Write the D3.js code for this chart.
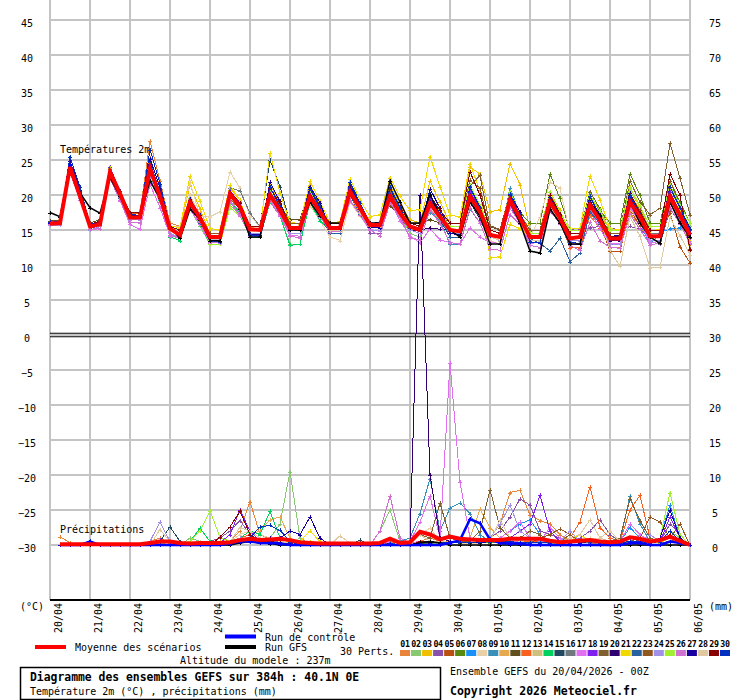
<!DOCTYPE html>
<html><head><meta charset="utf-8">
<script src="https://cdn.jsdelivr.net/npm/d3@7"></script>
<style>
body{margin:0;background:#fff}
svg{display:block}
text{font-family:"DejaVu Sans Mono",monospace;fill:#000}
</style>
</head><body>
<svg id="c" width="740" height="700"></svg>
<script>
// ---------- DATA ----------
const dates = ["20/04","21/04","22/04","23/04","24/04","25/04","26/04","27/04","28/04","29/04","30/04","01/05","02/05","03/05","04/05","05/05","06/05"];
const tempTicks = [45,40,35,30,25,20,15,10,5,0,-5,-10,-15,-20,-25,-30];
const precipTicks = [75,70,65,60,55,50,45,40,35,30,25,20,15,10,5,0];
const pertNames = ["01","02","03","04","05","06","07","08","09","10","11","12","13","14","15","16","17","18","19","20","21","22","23","24","25","26","27","28","29","30"];
const pertColors = ["#e8843a","#88c870","#f0c000","#8850a8","#b85010","#588810","#1890f8","#e8d0a8","#3890b8","#e8a850","#605020","#f86020","#d0c080","#00d060","#204860","#707880","#e070f0","#8020f0","#806030","#300070","#f0d800","#2860a0","#905820","#a090e8","#a0f030","#d070d0","#1800a0","#e0c8a0","#880000","#0030c0"];

// 2m temperature, every 6h from 20/04 00Z (65 steps)
const meanTemp = [15.9,16,24,19.8, 15.5,15.8,23.3,20.2, 16.8,16.8,23.8,19.8, 15.2,14.3,19,16.7, 14,14,20.2,18.3, 15.1,15,20,17.8, 15.3,15.3,19.8,17.6, 15.3,15.3,20.5,18.1, 15.7,15.7,19.8,17.4, 15.5,15,18.8,16.9, 15,14.8,19.8,17.6, 14.3,14,19.3,16.7, 14,14,19,16.7, 13.8,14,18.6,16.4, 13.8,13.8,19,16.9, 14.1,14.1,19.8,17.1, 14.3];
const ctrlTemp = [16,16,24.2,20, 15.6,15.9,23.4,20.3, 16.9,16.9,24.1,20, 15.2,14.3,19.2,16.8, 14,14.1,20.4,18.4, 15.1,15,20.2,17.9, 15.3,15.3,20,17.7, 15.3,15.4,20.7,18.2, 15.7,15.7,20,17.5, 15.5,15.1,19,17, 15,14.8,20,17.7, 14.3,14,19.5,16.8, 14,14,19.2,16.8, 13.8,14,18.8,16.5, 13.8,13.8,19.2,17, 14.1,14.1,20,17.2, 14.5];
const gfsTemp = [17.5,16.9,24,20.3, 18.2,17.4,22.5,19.8, 17,17,22,19.5, 15.5,13.8,18,16.5, 13.5,13.5,20,18, 14,14,20,18, 15,15,19,17, 16,16,20,18, 16,16,22,19, 16,16,20,17, 15,14,19,17, 13,13,19,16, 12,11.7,18,16, 13,13,19,17, 14,14,19,16, 14,13.1,19,16, 14];
const pertTemp = [
[16,16,24.5,20.3, 16,16.5,23.5,20.3, 17.5,17.5,27.7,22, 16,15.5,19.5,17.3, 14.5,14.5,19,18.3, 14,14,19.5,17.3, 15.5,15.5,21,18, 16,16,19.2,17.6, 16,16,21,18.3, 15.5,15,18,16.5, 14,14,21,17.5, 15,14.5,20.5,17.3, 15,15,20.5,17.8, 13,13,17,15.3, 12.5,12.5,17.5,15.5, 13.5,13.5,20.5,17, 13.5],
[15.7,15.7,23.5,19.6, 15,15.5,22.5,19.3, 16.5,16.5,23,19.3, 14,13.5,18,15.5, 13,13,18.5,17.3, 14,14,19,17, 13,13,19,16.3, 15,15,20,17.5, 15,15,19.5,17, 14.5,14,19,16.5, 14,14,21,17.5, 13.5,13,20,16.3, 14,14,19.5,16.8, 14.5,14.5,20,17.5, 15,15,20.5,18.3, 15,15,21,18, 15.5],
[16,16,24,20, 15.8,16.3,23.5,20.1, 17,17,24.5,20.3, 15.5,15,21.5,18, 14.5,14.5,21,19.3, 15,15,21.5,18.8, 15.5,15.5,21.5,18.3, 16,16,21,18.5, 16,16,21.5,18.5, 16.5,16,22,19, 16,16,24,23, 17.6,17.9,24.5,21.5, 15,15,20.5,17.8, 14.5,14.5,20,17.5, 14,14,19,17, 14,14,20.5,17.3, 13.5],
[16,16,23.7,19.8, 15.5,16,23.5,20, 16.7,16.7,23.5,19.6, 14.5,14,18.5,16, 13.5,13.5,20,18.3, 15.5,15.5,20.5,18.5, 15,15,19.5,17, 15.5,15.5,20.8,18.2, 14.5,14.5,19.5,16.8, 15,14.5,18.5,16.5, 14,14,19,16.5, 14,13.5,18.5,16, 14.8,15,17.7,16.1, 15.1,15.2,15.3,15.5, 15.3,15,15.5,15.1, 14,13,18,16, 13.8],
[16,16,24,20, 15.8,16.3,23.8,20.3, 17,17,24.5,20.3, 15.5,15,19,16.8, 14,14,19.5,18, 14.5,14.5,19.5,17.5, 15,15,19,16.8, 15,15,20.2,17.6, 16,16,19,17, 16,15.5,18.5,17, 15,15,19.5,17.3, 15,14.5,19,16.5, 13.5,13.5,18,15.8, 13.5,13.5,18,16, 12,12,18,15.5, 13.8,14,17.4,12.6, 10.3],
[16,16,24.2,20.1, 15.5,16,23.7,20.1, 17,17,24,20, 15,14.5,19.5,16.8, 14.5,14.5,20.5,19, 15.5,15.5,21,18.8, 16,16,20.5,18, 16,16,21.5,18.8, 16,16,21,18.3, 16,15.5,20,17.8, 15.5,15.5,21,18.3, 15.5,15,20.5,17.5, 16,16,23,19.5, 15,15,20,17.8, 16,16,23,20, 16,16,22,19, 16],
[16,16,24,20, 15.5,16,23.2,19.8, 17,17,24.7,20.4, 14.5,14,18,15.8, 13,13,19,17.5, 14,14,19.5,17.3, 15,15,19,16.8, 16,16,21,18.5, 16,16,20,17.8, 15,14.5,18,16.3, 14.5,14.5,20,17.3, 14,13.5,20,16.5, 13.5,13.5,19,16.3, 12.5,12.5,18.5,15.8, 13,13,18,16, 12.9,14.6,15.2,15.3, 15],
[16,16,24,20, 15.5,16,23,19.8, 17,17,23,19.5, 15.5,15.5,21.8,17, 16.9,17.6,23.3,21, 17,15.5,19.5,17, 14.5,14.5,18.5,16.3, 14,13.5,19,17, 15,15,20,17.3, 15.5,15,20,17.5, 14.5,14.5,20,17.3, 13.5,13,20,16.3, 14,16.9,21.8,21, 14.5,14.5,18,16.5, 13,13,18,16, 14,14,19,16.5, 14],
[15.8,15.8,23.7,19.8, 15.2,15.7,23,19.6, 16.5,16.5,23.5,19.5, 14.5,14,19,16.3, 14,14,20.5,18.8, 15,15,19.5,17.8, 15,15,20.5,17.5, 14.5,14.5,20.5,17.5, 15.5,15.5,19,17, 15.5,15,17.5,16.3, 13,13,18,16, 14.5,14,21,17.3, 14.5,14.5,19,17, 14,14,19,17, 14.5,14.5,20,17.8, 14,14,19.5,16.8, 14.5],
[16,16,24.3,20.2, 15.8,16.3,23.8,20.3, 17,17,24.3,20.2, 15.5,15,19.5,17, 14,14,20,18.5, 14.5,14.5,20.5,18, 15.5,15.5,20,17.5, 16,16,21,18.5, 16,16,20.5,18, 15.5,15,19.5,17.3, 16,16,21,18.5, 15,14.5,20,17, 14.5,14.5,19.5,17, 14.5,14.5,19.5,17.3, 15,15,20,18, 14.5,14.5,20,17.3, 13],
[16.3,16.3,24.5,20.3, 16,16.5,24,20.5, 17.5,17.5,23.5,20, 15,14.5,20,17, 14.5,14.5,20.5,19, 15,15,20.5,18.3, 16.5,16.5,21,18.5, 15,15,21,18, 16,16,18.5,17, 16,16,16.5,16, 15.5,15.5,20,17.8, 15.5,15,19,16.8, 14,14,20,17, 14.5,14.5,17.5,16.3, 13.5,13.5,18.5,16.5, 15,15,21,18, 15],
[16.2,16.2,24.5,20.3, 15.8,16.3,23.8,20.3, 17.3,17.3,25.3,21, 15,14.5,19,16.5, 14,14,20,18.5, 15,15,20.5,18.3, 15,15,19.5,17, 15,15,20,17.5, 16,16,20,17.8, 15.5,15,19.5,17.3, 14.5,14.5,19.5,17, 14,13.5,19.5,16.3, 13.5,13.5,18.5,16, 12.5,12.5,17.5,15.3, 14,14,18.5,16.8, 13.5,13.5,19.5,16.5, 13],
[16,16,24,20, 15.2,15.7,23.2,19.7, 17,17,23.5,19.8, 15,14.5,20,17, 14,14,19.5,18.3, 14.5,14.5,20,17.8, 16,16,20,17.8, 16,16,20,18, 15,15,20,17.3, 15.5,15,18,16.5, 15,15,19.5,17.3, 14,13.5,19,16, 14.5,14.5,20,17.3, 14,14,18.5,16.5, 13.5,13.5,18.5,16.5, 14.5,14.5,19.5,17, 14.5],
[16,16,23.7,19.8, 15.2,15.7,23.2,19.7, 16.5,16.5,23,19.3, 14,13.5,18,15.8, 13,13,19,17.5, 14,14,19,17, 12.8,13,19,16.3, 15,15,20.5,17.8, 15,15,19.5,17, 15.5,15,19,17, 14.5,14.5,19.5,17, 14,13.5,19,16, 13.5,13.5,18.5,16, 13.5,13.5,18.5,16.3, 13.5,13.5,19,16.8, 14,14,19.5,16.8, 14.5],
[16,16,24.3,20.2, 15.5,16,23.5,20, 17,17,24.5,20.3, 15,14.5,18.5,16.3, 14,14,20.5,18.8, 15.5,15.5,25,21.2, 16,16,21,18.3, 15,15,20.5,17.8, 15.5,15.5,19.5,17.3, 15,14.5,18.5,16.5, 14,14,19,16.5, 14.5,14,19.5,16.5, 14.5,14.5,19,16.8, 13.5,13.5,18,16, 14.5,14.5,19.5,17.5, 14,14,20,17, 14],
[16,16,24,20, 15.5,16,23.5,20, 17,17,24,20, 15.5,15,19,16.8, 14.5,14.5,21,20.6, 17.4,15.5,20,18, 15,15,19.5,17.3, 15.5,15.5,20,17.8, 15.5,15.5,20,17.5, 15,14.5,19.5,17, 15,15,20,17.5, 15,14.5,20.5,17.3, 14,14,19,16.5, 14,14,19,16.8, 13.5,13.5,19,16.8, 14.5,14.5,20.5,17.5, 14.5],
[15.8,15.8,23.2,19.3, 15,15.2,22.4,19.2, 15.8,15.1,21.5,18.2, 14.2,13.8,18,15.8, 13.2,13.2,19.1,17.1, 14.1,14,19.2,17.1, 14.3,14.1,19.1,17, 14.8,14.9,19.2,17.2, 15.1,14.8,19.1,16.3, 14.2,13.1,15.2,13.6, 13.2,13,15.3,14, 13.2,13.1,18.1,16, 13.1,13.2,18.2,16, 12.9,13.1,17.9,15.1, 13,13.1,18.2,16.1, 13.2,13.1,18.9,16, 13.2],
[16,16,24.3,20.2, 15.8,16.3,24,20.5, 17,17,24,20, 15,14.5,19.5,16.8, 14.5,14.5,20.5,19, 15,15,21,18.5, 15.5,15.5,20.5,17.8, 16,16,21.5,18.8, 16,16,20.5,18, 16,15.5,19.5,17.5, 15.5,15.5,20.5,18, 14,13.5,19.5,16.3, 14,14,19.5,16.8, 13,13,18.5,16, 14,14,20,17.5, 14,14,20.5,17.3, 15],
[16,16,23.8,19.9, 15.5,16,23.5,20, 17,17,24,20, 15,14.5,19,16.5, 14,14,20,18.5, 15,15,21,18.5, 15.5,15.5,20,17.5, 15.5,15.5,21,18.3, 16,16,20.5,18, 16,15.5,20,17.8, 15.5,15.5,21.3,22.8, 15.6,15.1,20.2,17.2, 15,15,20,17.5, 15,15,20.5,18, 15,15,22,19, 17.2,18.1,27.4,22.4, 17.2],
[16,16,24,20, 15.5,16,23.5,20, 17,17,24,20, 15,14.5,19.5,16.8, 14,14,19.5,18.3, 15,15,20,18, 15,15,20,17.3, 15,15,20.5,17.8, 15,15,21,17.5, 15,15,15.3,15.1, 15,15,19,17, 14,13.5,19,16.3, 13.5,13.5,19,16.3, 14,14,18,16.3, 13.5,13.5,19,16.8, 14,14,20,17, 14.5],
[16.1,16.1,24.2,20.3, 15.8,16.1,23.4,20.4, 17.1,17.1,25.1,21.1, 15.6,15.3,22.7,19.1, 15.2,15,21.4,19.2, 15.4,15.1,26,20.3, 16.1,15.9,22,19.1, 16,16.2,22.3,19.3, 16.9,17.2,22.5,19.8, 17.8,17.9,25.5,21.2, 17.1,16.9,24.5,20.5, 11,11.2,15.8,15.2, 14.1,14.2,19.4,17.2, 15.1,15.3,22.7,19.3, 15.2,15,21.2,18.1, 14.9,15.1,21.1,17.9, 12.1],
[16,16,23.7,19.8, 15.2,15.7,23,19.6, 16.7,16.7,23.5,19.6, 14.5,14,18.5,16, 13.5,13.5,19,17.8, 14.5,14.5,20,17.8, 15,15,19.5,17, 14.5,14.5,20,17.3, 15,15,19.5,17, 15,14.5,19,16.8, 14,14,20,17, 14,13.5,19,16, 13.8,13.1,12,13.8, 10.5,11.7,17.6,15.9, 13,13,18.5,16.3, 13.5,13.5,19,16.3, 14],
[16,16,24.2,20.1, 15.5,16,23.7,20.1, 17,17,24.3,20.2, 15.5,15,19.5,17, 14.5,14.5,20,18.8, 15.5,15.5,20,18.3, 16,16,20.5,18, 16,16,20.5,18.3, 16,16,20.5,18, 16,15.5,20,17.8, 16,16,22.1,21, 15,14.5,20,17, 14.5,14.5,20,17.3, 14.5,14.5,19,17, 14.5,14.5,20,17.8, 15,15,22,18.5, 12.3],
[15.7,15.7,23.5,19.5, 15,15.5,22.5,19.3, 16.5,16.5,22.5,19, 14.5,14,19,16.3, 14,14,19,17.8, 14.5,14.5,19.5,17.5, 14.5,14.5,19.5,16.8, 15,15,20,17.5, 15,15,19.5,17, 15,14.5,18.5,16.5, 14.5,14.5,19,16.8, 14,13.5,19,16, 13.5,13.5,18,15.8, 13.5,13.5,18,16, 13,13,18.5,16.3, 13.5,13.5,19,16.3, 14],
[16,16,24.2,20.1, 15.5,16,23.8,20.1, 17,17,24,20, 15,14.5,19.5,16.8, 13,13,18.2,17, 15,15,20.5,18.3, 15.5,15.5,20.5,17.8, 15.5,15.5,21,18.3, 16,16,21,18.3, 15.5,15,20,17.5, 15.5,15.5,21.5,18.5, 15,14.5,20.5,17.3, 14.5,14.5,20.5,17.5, 15,15,20,17.8, 15,15,21,18.5, 15.5,15.5,21.5,18.5, 16],
[15.8,15.8,23.3,19.3, 15.1,15.2,22.3,19.3, 16.1,16,22.2,19, 14.3,13.9,18.2,16.2, 13.3,13.2,19,17, 14.2,14.1,19.1,17, 14.1,13.9,19,17.1, 14.7,14.9,19.3,17.1, 15,14.2,18.9,16.8, 13.9,13.6,17.9,15.9, 13.2,13,18.1,16, 12.3,12.1,17.2,15.8, 12.8,12.5,17.8,15.9, 12.8,12.1,16.1,13.5, 12.5,12.4,17.2,15.1, 12.9,13.1,18.2,15.8, 13.1],
[16.1,16.1,24.9,20.7, 15.8,16,23.4,20.3, 17.1,17,25.2,21, 15.3,14.4,19.4,17.1, 13.4,13.5,20.3,18.4, 14.4,14.3,21.8,19.1, 15.3,15.2,21.2,18.9, 15.2,15.3,21.3,18.8, 15.4,15.3,21.1,18.1, 15.3,15.2,20.9,18.1, 14.5,14.3,21.2,18.2, 14.2,14,20.1,17.6, 13.8,13.9,19.7,17.2, 13.9,14.1,19.8,17.1, 14.1,14.2,20.3,17.3, 14.2,14.3,21.2,18.1, 15.2],
[16,16,23.8,19.9, 15.5,16,23.2,19.8, 17,17,23.3,19.7, 15,14.5,20,17, 14,14,19.5,18.3, 15,15,19.5,17.8, 15.5,15.5,20,17.5, 15,15,20,17.5, 15.5,15.5,19.5,17.3, 15.5,15,19,17, 15,15,19.5,17.3, 14,13.5,19,16, 13.5,13.5,18.5,16, 14,14,18.5,16.5, 12.1,9.8,16.9,14.1, 9.6,9.7,16.8,14.2, 11.5],
[16,16,24.2,20.1, 15.8,16.3,23.5,20.2, 17.5,17.5,24,20.2, 15.5,15,19,16.8, 14,14,20.5,18.8, 15.5,15.5,21,18.8, 15.5,15.5,20,17.5, 16,16,21,18.5, 16,16,21,18.3, 16,15.5,20,17.8, 16,16,23.3,20, 15,14.5,20,17, 14,14,20,17.3, 14.5,14.5,19,17, 14,14,20,17.5, 15,15,23,20, 12.2],
[16.1,16.2,25.5,21.1, 15.8,16.1,23.5,20.6, 17.2,17.1,26.5,21.6, 15.4,14.4,19.3,17.1, 13.4,13.3,20.2,18.3, 14.3,14.2,21.1,18.3, 15.2,15.1,20.8,18.2, 15.3,15.2,21.8,18.9, 15.9,16.1,21.1,18.2, 15.3,15.1,20.2,17.3, 14.9,14.8,21.1,18.1, 14.2,14.1,20.2,17.1, 13.3,13.2,19.1,16.9, 13.2,13.1,19.8,16.9, 14.1,14,19.9,17.1, 14.1,14.2,21.1,18.2, 15.1]
];

// 6-hourly precipitation (mm), from 20/04 06Z (64 steps)
const meanPrecip = [0.1,0.1,0.1,0.1,0.1,0.1,0.1,0.1, 0.1,0.3,0.5,0.5,0.3,0.2,0.3,0.3, 0.3,0.4,0.7,0.9,0.7,0.8,0.9,0.7, 0.4,0.3,0.2,0.2,0.2,0.2,0.2,0.2, 0.3,0.9,0.3,0.4,1.9,1.5,0.8,1.2, 0.9,0.8,0.7,0.7,0.7,0.9,0.9,0.9, 0.9,0.6,0.4,0.5,0.6,0.7,0.5,0.4, 0.5,1.1,0.9,0.5,0.7,1.2,0.6,0];
const ctrlPrecip = [0,0,0,0.5,0,0,0,0, 0,0,0,0,0,0,0,0, 0,0.2,0.5,0.5,0.3,0.3,0.2,0, 0,0,0,0,0,0,0,0, 0,0,0,0,0,0,0,0.3, 0.7,3.7,3.1,0.8,0.3,0.2,0.2,0, 0,0,0,0,0,0,0,0, 0,0.3,0.3,0,0,0.5,0.3,0];
const gfsPrecip = [0,0,0,0,0,0,0,0, 0,0,0,0,0,0,0,0, 0,0,0.3,0.5,0.3,0.2,0,0, 0,0,0,0,0,0,0,0, 0,0.9,0.3,0,0.3,0.5,0.3,0, 0,0,0,0,0,0,0,0, 0,0,0,0,0,0,0,0, 0,0,0,0,0,0,0,0];
const pertPrecip = [
[1.2,0.3,0,0,0,0,0,0, 0,0.5,1,0.3,0,0,0.5,0.3, 0.2,0.5,2,6.2,1.5,0.8,0.5,0.3, 0.2,0,0,0,0,0,0,0, 0,0.5,0.2,0,0.5,1,0.5,0.3, 0.3,0.2,0.5,1,3,7.5,7.8,4.3, 3.5,3,1.5,0.5,0.5,0.3,0.2,0.5, 0.5,1,0.5,0.3,0.5,1.5,0.5,0],
[0,0,0,0,0,0,0,0, 0,0,0.3,0,0,1,0.5,0, 0,0,0.3,0.5,0.5,1,3,10.5, 1,0.2,0,0,0,0,0,0, 2,5,0.5,0,0.5,0.3,0.2,0.5, 0.3,0.2,0.5,0.5,0.5,0.3,0.2,0.3, 0.5,0.2,0.2,0.5,0.3,0.5,0.2,0, 0.3,1,0.5,0.3,0.5,2,1,0],
[0,0,0,0,0,0,0,0, 0,0,0,0,0,0,0.3,0.2, 0.5,0.3,1,1.5,0.5,1,1,0.3, 0,0.5,0,0,0,0,0,0, 0,0.3,0,0,0.5,0.5,0.3,0.3, 0.5,1,0.5,0.5,0.5,1,0.5,0.3, 0.3,0.5,0.3,0.3,1.5,0.5,0.3,0.2, 0.2,0.5,0.5,0.3,0.3,1,0.5,0],
[0,0,0,0,0,0,0,0, 0,0,0.5,0.5,0,0,0,0.5, 1,2,3.5,1.5,0.5,0.5,0.5,0.3, 0,0,0,0,0,0,0,0, 0,0.3,0,0.3,0.5,0.5,0.3,0.3, 0.5,0.3,0.5,1,2,4,6.6,5.7, 2,1.5,1,0.5,1,2,3.6,1.5, 0.5,0.5,0.5,1,0.5,3,1.5,0],
[0,0,0,0,0,0,0,0, 0,0,0,0,0,0,0,0, 0,0.5,1,1,0.5,0.5,0.3,0.2, 0,0,0,0,0,0,0,0, 0,0.2,0,0,0.5,0.5,0.5,0.5, 0.5,0.3,0.3,0.5,0.5,0.5,0.5,0.3, 0.3,0.5,0.3,0.5,0.3,0.5,0.3,0.3, 0.3,0.5,1,0.5,0.3,0.5,1,0],
[0,0,0,0,0,0,0,0, 0,0,0,0,0,0,0,0.3, 0.3,0.5,1,0.5,0.3,0.5,0.3,0.3, 0,0,0,0,0,0,0,0, 0,0,0,0,0.3,0.2,0.5,0.3, 0.3,0.2,0.5,0.3,0.5,0.5,0.3,0.3, 0.5,0.3,0.3,0.3,0.5,0.5,0.3,0.2, 0.3,0.5,0.5,0.3,0.5,1,0.5,0],
[0,0,0,0,0,0,0,0, 0,0,0,0,0,0,0,0, 0,0.3,1,1.5,0.5,0.5,0.3,0.2, 0,0,0,0,0,0,0,0, 0,0,0,0,0.5,0.3,0.3,0.3, 0.3,0.5,1,0.5,1,2,3,3.6, 1.5,0.5,0.3,0.3,0.3,0.5,0.3,0.3, 0.5,2.5,1,0.5,1,5.7,1,0],
[0,0,0,0,0,0,0,0, 0,0,0,0,0,0,0,0, 0.3,0.5,1.5,2,1.5,1,0.5,0.3, 0.3,0,0,0,0,0,0,0, 0,0.3,0,0,1.5,2.4,0.5,0.5, 0.3,0.2,0.3,0.5,1,0.5,0.5,0.3, 0.3,0.5,0.5,0.3,0.5,1,1,0.5, 0.3,0.5,0.3,0.3,0.5,1,0.5,0],
[0,0,0,0,0,0,0,0, 0,0,0,0,0,0,0,0, 0,0.3,0.5,1,0.5,0.5,0.3,0.2, 0,0,0,0,0,0,0,0, 0,0.2,0.5,1,4.5,9.5,2,5.3, 6,4.5,1.5,0.5,0.5,0.3,0.5,0.3, 0.3,0.3,0.3,0.5,0.5,0.5,0.3,0.3, 0.5,7,3,0.5,0.5,1,0.5,0],
[0,0,0,0,0,0,0,0, 0,0,0,0,0,0,0,0, 0.3,0.5,1,1.5,2,3.6,4,1, 0.3,0,0,0,0,0,0,0, 0,0.3,0,0,0.5,0.5,0.3,0.5, 0.5,1,5.1,2.5,1,0.5,0.5,0.3, 0.3,0.5,0.3,0.3,0.5,0.5,0.3,0.3, 0.3,0.5,0.5,0.3,0.3,1,0.5,0],
[0,0,0,0,0,0,0,0, 0,0,0,0,0,0,0,0, 0,0.2,0.5,0.5,0.3,0.3,0.3,0.2, 0,0,0,0,0,0,0,0, 0,0.3,0,0,0.5,0.5,0.3,0.3, 0.5,0.3,0.5,0.5,0.5,0.3,0.5,0.3, 1,0.5,0.5,0.3,0.3,0.5,0.3,0.3, 0.3,1,0.5,0.3,0.5,1,0.5,0],
[0,0,0,0,0,0,0,0, 0,0,0,0,0,0,0,0, 0.2,0.5,1,1.5,0.5,0.5,0.3,0.3, 0,0,0,0,0,0,0,0, 0,0.2,0,0,0.3,0.5,0.3,0.3, 0.3,0.3,0.3,0.5,0.5,0.5,0.5,0.5, 0.5,0.5,0.5,1,3.3,8.3,2.5,1, 0.5,5,7.1,1,0.5,1,0.5,0],
[0,0,0,0,0,0,0,0, 0,0,0,0,0,0,0,0, 0,0.3,0.5,1,0.5,0.5,0.3,0.2, 0,0,0,0,0,0,0,0, 0,0.2,0,0,0.3,0.3,0.5,0.3, 0.3,0.3,0.3,0.5,0.5,0.5,0.3,0.3, 0.3,0.3,0.3,0.3,0.5,0.3,0.3,0.3, 0.3,0.5,0.5,0.3,0.3,0.5,0.5,0],
[0,0,0,0,0,0,0,0, 0,0,0,0,0,0.5,2.4,0.5, 0,0.5,1,2,1.5,4.8,1,0.5, 0,0,0,0,0,0,0,0, 0,0.2,0,0,0.3,0.3,0.3,0.3, 0.3,0.3,0.5,0.5,0.5,0.3,0.3,0.3, 0.3,0.3,0.3,0.3,0.5,0.5,0.3,0.3, 0.3,0.5,0.5,0.3,0.3,1,0.5,0],
[0,0,0,0,0,0,0,0, 0,0,0.5,2.6,0.5,0,0,0, 0,0.3,0.5,0.5,0.3,0.5,0.3,0.2, 0,0,0,0,0,0,0.7,0, 0,0.2,0,0,0.5,0.3,0.3,0.3, 0.3,0.3,0.3,0.5,0.5,0.5,0.3,0.3, 0.3,0.3,0.3,0.3,0.3,0.3,0.3,0.3, 0.3,0.5,0.5,0.3,0.3,1,0.5,0],
[0,0,0,0,0,0,0,0, 0,0,0,0,0,0,0,0, 0,0.3,0.5,1,0.5,0.5,0.3,0.2, 0,0,0,0,0,0,0,0, 0,0.2,0,0,0.3,0.5,0.3,0.3, 0.3,0.3,0.5,0.5,0.3,0.3,0.3,0.3, 0.3,0.3,0.3,0.3,0.3,0.3,0.3,0.3, 0.3,0.5,0.3,0.3,0.3,0.5,0.3,0],
[0,0,0,0,0,0,0,0, 0,0,0,0,0,0,0,0, 0,0.3,0.5,0.5,0.3,0.5,0.3,0.2, 0,0,0,0,0,0,0,0, 0,0.5,0.3,0.5,3.3,7,1,26, 9,1,0.5,0.5,1,2,3.3,1, 0.5,2.5,1,0.5,0.5,0.5,0.5,0.3, 0.5,3,1.5,0.5,0.5,1,0.5,0],
[0,0,0,0,0,0,0,0, 0,0,0.7,0.5,0,0,0,0, 0.3,1.5,5,2,0.5,0.5,0.3,0.3, 0,0,0,0,0,0,0,0, 0,0.3,0,0,0.5,0.5,0.3,0.3, 0.3,0.3,0.5,0.5,0.5,1,2,3, 7.1,2,0.5,0.3,0.3,0.5,0.3,0.3, 0.3,0.5,0.5,0.3,0.5,4,1,0],
[0,0,0,0,0,0,0,0, 0,0,0,0,0,0,0,0, 0,0.3,0.5,0.5,0.3,0.5,0.3,0.2, 0,0,0,0,0,0,0,0, 0,0.3,0,0,1.5,1,6,1, 0.5,0.5,2,7.9,2.5,1,1,2, 1.5,0.5,0.5,1.5,0.5,0.5,0.3,0.5, 1,6.6,3.5,1,0.5,1,3,0],
[0,0,0,0,0,0,0,0, 0,0,0,0,0,0,0,0, 0,0.3,0.5,0.5,0.3,0.3,0.3,0.2, 0,0,0,0,0,0,0,0, 0,0.2,0,0.3,50,10,1,0.5, 0.3,0.3,0.3,0.5,0.5,0.5,0.3,0.3, 0.3,0.3,0.3,0.3,0.3,0.5,0.3,0.3, 0.3,0.5,0.5,0.3,0.5,2,0.5,0],
[0,0,0,0,0,0,0,0, 0,0,0,0,0,0,0,0, 0,0.3,0.5,1,0.5,0.5,0.3,0.2, 0.5,2,0.5,0,0,0,0,0, 0,0.2,0,0,0.3,0.5,0.3,0.3, 0.3,0.3,0.5,0.5,0.5,0.5,0.3,0.3, 0.3,0.3,0.5,0.5,1.5,0.5,0.3,0.3, 0.3,0.5,0.5,0.3,0.3,1,0.5,0],
[0,0,0,0,0,0,0,0, 0,0,0,0,0,0,0,0, 0,0.3,0.5,1,0.5,0.5,0.3,0.2, 0,0,0,0,0,0,0,0, 0,0.2,0,0,0.5,0.5,0.3,0.3, 0.3,0.3,0.5,0.5,0.5,0.5,0.3,0.3, 0.3,0.3,0.3,0.3,0.5,0.5,0.3,0.3, 0.3,1,0.5,0.3,0.5,1.5,0.5,0],
[0,0,0,0,0,0,0,0, 0,0,0,0,0,0,0,0, 0,0.3,0.5,0.5,0.3,0.3,0.3,0.2, 0,0,0,0,0,0,0,0, 0,0.2,0,0,0.5,0.5,0.3,0.3, 0.3,0.3,0.5,0.5,0.5,0.5,0.5,0.3, 1,1.5,2.3,1.5,0.5,0.5,0.3,0.3, 0.3,0.5,1,4,3.3,1,3,0],
[0,0,0,0,0,0,0,0, 0,0.5,3.3,0.5,0,0,0,0, 0,0.3,1,1,0.5,0.5,0.3,0.2, 0,0,0,0,0,0,0,0, 0,0.2,0,0,0.5,0.5,0.3,0.3, 0.3,0.3,0.5,1,3,5.7,2,1, 0.5,0.5,0.5,2,0.5,0.5,0.5,0.3, 0.3,0.5,0.5,1.5,0.5,1,0.5,0],
[0,0,0,0,0,0,0,0, 0,0,0,0,0,0.5,2,4.9, 1.1,0.5,0.5,0.5,0.3,0.5,0.3,0.2, 0,0,0,0,0,0,0,0, 0,0.2,0,0,0.3,0.3,0.3,0.3, 0.3,0.3,0.3,0.5,0.5,0.5,0.3,0.3, 0.3,0.3,0.3,0.3,0.5,0.5,0.3,0.3, 0.3,0.5,0.5,0.5,1,7.5,1.5,0],
[0,0,0,0,0,0,0,0, 0,0,0,0,0,0,0,0, 0,0.3,0.5,1,0.5,0.5,0.3,0.2, 0,0,0,0,0,0,0,0, 2,7,1,0.3,0.5,0.5,0.3,0.3, 0.3,0.3,0.5,0.5,0.5,0.5,0.5,0.3, 0.3,0.5,0.3,0.3,0.5,0.5,0.3,0.3, 0.3,0.5,0.5,0.3,0.5,1,0.5,0],
[0,0,0,0,0,0,0,0, 0,0,0,0,0,0,0,0, 0,0.3,0.5,0.5,0.5,1,1,2, 1.5,4,1,0,0,0,0,0, 0,0.2,0,0,0.3,0.3,0.3,0.3, 0.3,0.3,0.3,0.5,0.5,0.5,0.3,0.3, 0.3,0.3,0.3,0.3,0.5,0.5,0.3,0.3, 0.3,0.5,0.5,0.3,1,5,1,0],
[0,0,0,0,0,0,0,0, 0,0,2.2,0.5,0,0,0.5,0.3, 0.3,0.5,2.5,2,1,0.5,0.3,0.3, 0,0,0,0,1.3,0.3,0,0, 0,0.2,0,0,1.5,0.5,0.5,0.3, 0.3,0.3,0.5,0.5,3.6,1,0.5,0.3, 0.3,0.5,0.5,1,1.5,3.6,1,2, 0.5,0.5,0.5,0.3,0.5,1,0.5,0],
[0,0,0,0,0,0,0,0, 0,0,0,0,0,0,0,0, 1.1,2.6,4.8,1.5,0.5,0.5,0.3,0.2, 0,0,0,0,0,0,0,0, 0,0.2,0,0,0.5,0.5,0.3,0.3, 0.3,0.3,0.5,0.5,0.5,0.5,0.3,0.3, 0.3,0.3,0.3,0.3,0.5,0.5,0.3,0.3, 0.3,0.5,0.5,0.3,0.5,1.5,0.5,0],
[0,0,0,0.6,0,0,0,0, 0,0,0,0,0,0,0,0, 0,0.3,0.5,1,2.6,2.8,2.1,0.5, 0,0,0,0,0,0,0,0, 0,0.2,0,0,0.3,0.5,0.3,0.3, 0.3,0.3,0.5,0.5,0.5,0.5,0.3,0.3, 0.3,0.3,0.3,0.3,0.5,0.5,0.3,0.3, 0.3,0.5,0.5,0.3,0.5,2,0.5,0]
];

// sanity
[meanTemp,ctrlTemp,gfsTemp,...pertTemp].forEach((a,i)=>{ if(a.length!==65) throw new Error("temp len "+i+" "+a.length); });
[meanPrecip,ctrlPrecip,gfsPrecip,...pertPrecip].forEach((a,i)=>{ if(a.length!==64) throw new Error("precip len "+i+" "+a.length); });

// ---------- CHART ----------
const svg = d3.select("#c");
svg.append("rect").attr("width",740).attr("height",700).attr("fill","#fff");

const x = d3.scaleLinear().domain([0,64]).range([50,690]);
const yT = d3.scaleLinear().domain([-30,45]).range([545,20]);
const yP = d3.scaleLinear().domain([0,75]).range([545,20]);
const dayIdx = d3.range(0,65,4);

// grid
const grid = svg.append("g").attr("stroke","#c4c4c4").attr("stroke-width",2).attr("shape-rendering","crispEdges");
tempTicks.forEach(t=>grid.append("line").attr("x1",x(0)).attr("x2",x(64)).attr("y1",yT(t)).attr("y2",yT(t)));
dayIdx.forEach(d=>grid.append("line").attr("x1",x(d)).attr("x2",x(d)).attr("y1",0).attr("y2",600));

// zero line (double)
[-0.25,0.25].forEach(o=>svg.append("line").attr("x1",x(0)).attr("x2",x(64))
  .attr("y1",yT(o)).attr("y2",yT(o)).attr("stroke","#000").attr("stroke-width",1.2));

// bottom axis line
svg.append("line").attr("x1",x(0)).attr("x2",x(64)).attr("y1",600).attr("y2",600)
  .attr("stroke","#000").attr("stroke-width",1.5).attr("shape-rendering","crispEdges");

// axes
const axL = svg.append("g").attr("transform","translate(27,0)")
  .call(d3.axisLeft(yT).tickValues(tempTicks).tickSize(0).tickPadding(0));
axL.select(".domain").remove();
axL.selectAll("text").attr("x",0).attr("dy","0.62em").attr("text-anchor","middle")
  .style("font-family","DejaVu Sans Mono").style("font-size","10px");

const axR = svg.append("g").attr("transform","translate(715,0)")
  .call(d3.axisRight(yP).tickValues(precipTicks).tickSize(0).tickPadding(0));
axR.select(".domain").remove();
axR.selectAll("text").attr("x",0).attr("dy","0.62em").attr("text-anchor","middle")
  .style("font-family","DejaVu Sans Mono").style("font-size","10px");

const axB = svg.append("g").attr("transform","translate(0,600)")
  .call(d3.axisBottom(x).tickValues(dayIdx).tickSize(0).tickFormat((d,i)=>dates[i]));
axB.select(".domain").remove();
axB.selectAll("text").attr("transform","rotate(-90)").attr("text-anchor","end")
  .attr("x",-3).attr("y",11.5).attr("dy",0)
  .style("font-family","DejaVu Sans Mono").style("font-size","10px");

svg.append("text").attr("x",20).attr("y",610).style("font-size","10px").text("(°C)");
svg.append("text").attr("x",709).attr("y",610).style("font-size","10px").text("(mm)");

svg.append("text").attr("x",60).attr("y",153).style("font-size","10px").text("Températures 2m");
svg.append("text").attr("x",60).attr("y",533).style("font-size","10px").text("Précipitations");

// series
const lineT = d3.line().x((d,i)=>x(i)).y(d=>yT(d));
const lineP = d3.line().x((d,i)=>x(i+1)).y(d=>yP(d));
const plot = svg.append("g");

function crosses(arr, off, yS){
  return arr.map((d,i)=>{const px=Math.round(x(i+off)), py=Math.round(yS(d)); return `M${px-2},${py}h4M${px},${py-2}v4`;}).join("");
}
function drawSeries(t, p, color, w, marks, crisp){
  const r = crisp ? "crispEdges" : "auto";
  plot.append("path").attr("d",lineT(t)).attr("fill","none").attr("stroke",color).attr("stroke-width",w).attr("shape-rendering",r);
  plot.append("path").attr("d",lineP(p)).attr("fill","none").attr("stroke",color).attr("stroke-width",w).attr("shape-rendering",r);
  if(marks){
    plot.append("path").attr("d",crosses(t,0,yT)+crosses(p,1,yP)).attr("fill","none").attr("stroke",color).attr("stroke-width",1).attr("shape-rendering","crispEdges");
  }
}
pertTemp.forEach((t,k)=>drawSeries(t, pertPrecip[k], pertColors[k], 1, true, true));
drawSeries(gfsTemp, gfsPrecip, "#000", 1.5, true, false);
drawSeries(ctrlTemp, ctrlPrecip, "#0000ff", 2.5, true, false);
drawSeries(meanTemp, meanPrecip, "#ff0000", 4, false, false);

// legend
const lg = svg.append("g");
lg.append("line").attr("x1",35).attr("x2",66).attr("y1",647).attr("y2",647).attr("stroke","#ff0000").attr("stroke-width",4);
lg.append("text").attr("x",75).attr("y",651).style("font-size","10px").text("Moyenne des scénarios");
lg.append("line").attr("x1",225).attr("x2",256).attr("y1",636.5).attr("y2",636.5).attr("stroke","#0000ff").attr("stroke-width",4);
lg.append("text").attr("x",265).attr("y",641).style("font-size","10px").text("Run de contrôle");
lg.append("line").attr("x1",225).attr("x2",256).attr("y1",647).attr("y2",647).attr("stroke","#000").attr("stroke-width",4);
lg.append("text").attr("x",265).attr("y",651).style("font-size","10px").text("Run GFS");
lg.append("text").attr("x",340).attr("y",655).style("font-size","10px").text("30 Perts.");
lg.append("text").attr("x",180).attr("y",664).style("font-size","10px").text("Altitude du modele : 237m");

const sw = d3.scaleBand().domain(pertNames).range([400,730]).paddingInner(0.09);
pertNames.forEach((n,k)=>{
  lg.append("rect").attr("x",sw(n)).attr("y",650).attr("width",sw.bandwidth()).attr("height",6).attr("fill",pertColors[k]);
  lg.append("text").attr("x",sw(n)+sw.bandwidth()/2).attr("y",647).attr("text-anchor","middle")
    .style("font-size","8.3px").style("font-weight","bold").attr("letter-spacing","-0.3").text(n);
});

// title box
lg.append("rect").attr("x",20.5).attr("y",667.5).attr("width",420).attr("height",32).attr("fill","none").attr("stroke","#000").attr("stroke-width",1.5);
lg.append("text").attr("x",30).attr("y",681).style("font-size","11.4px").style("font-weight","bold").text("Diagramme des ensembles GEFS sur 384h : 40.1N 0E");
lg.append("text").attr("x",30).attr("y",695).style("font-size","10px").text("Température 2m (°C) , précipitations (mm)");
lg.append("text").attr("x",450).attr("y",675).style("font-size","10px").text("Ensemble GEFS du 20/04/2026 - 00Z");
lg.append("text").attr("x",450).attr("y",695).style("font-size","11.5px").style("font-weight","bold").text("Copyright 2026 Meteociel.fr");
</script>
</body></html>
